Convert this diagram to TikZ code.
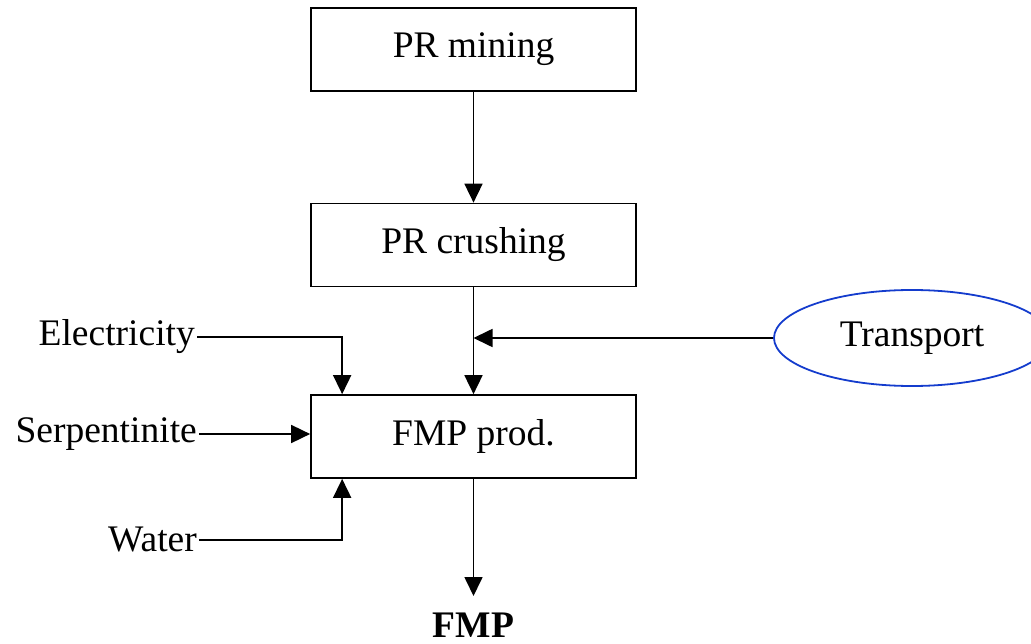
\documentclass[tikz,border=0pt]{standalone}
\usepackage{fontspec}
\setmainfont{Liberation Serif}
\usetikzlibrary{arrows.meta,shapes.geometric}
\definecolor{tblue}{RGB}{20,60,205}
\begin{document}
\begin{tikzpicture}[x=1pt,y=-1pt,
  font=\fontsize{37.5}{45}\selectfont,
  procbox/.style={draw, line width=1.7pt, minimum width=325pt, minimum height=83pt, inner sep=0pt},
  flow/.style={line width=1.7pt, -{Triangle[length=19pt,width=18pt]}},
  lbl/.style={anchor=east, inner sep=2pt}]
\useasboundingbox (0,0) rectangle (1031,644);
\node[procbox] (mine) at (473.5,49.5) {PR mining};
\node[procbox] (crush) at (473.5,245) {PR crushing};
\node[procbox] (fmp) at (473.5,436.5) {FMP prod.};
\node[draw=tblue, ellipse, line width=1.8pt, minimum width=276pt, minimum height=96pt, inner sep=0pt] (trans) at (912,338) {Transport};
\node[lbl] (elec) at (197,337) {Electricity};
\node[lbl] (serp) at (199,434) {Serpentinite};
\node[lbl] (water) at (199,540) {Water};
\node[font=\fontsize{37.5}{45}\selectfont\bfseries] (out) at (473.5,625) {FMP};
\coordinate (tj) at (crush.south |- trans.west);
\coordinate (etop) at ([xshift=32pt]fmp.north west);
\coordinate (wbot) at ([xshift=32pt]fmp.south west);
\coordinate (outend) at (473.5,596);
\draw[flow] (mine) -- (crush);
\draw[flow] (crush) -- (fmp);
\draw[flow] (trans.west) -- (tj);
\draw[flow] (elec.east) -| (etop);
\draw[flow] (serp.east) -- (serp.east -| fmp.west);
\draw[flow] (water.east) -| (wbot);
\draw[flow] (fmp.south) -- (outend);
\end{tikzpicture}
\end{document}
